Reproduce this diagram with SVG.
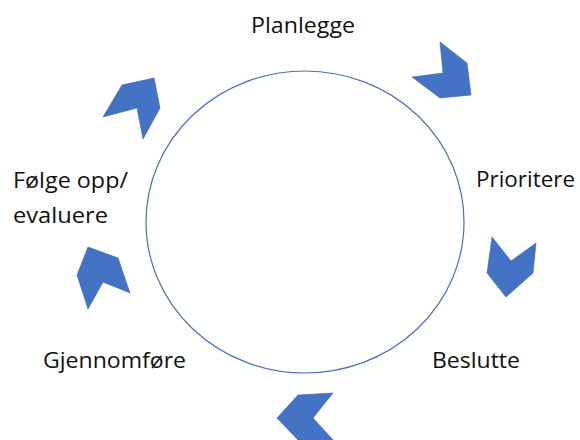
<svg xmlns="http://www.w3.org/2000/svg" width="580" height="440" viewBox="0 0 580 440">
<style>
.lbl{font-family:"Open Sans","Liberation Sans",sans-serif;font-size:22px;fill:#111}
.chev{fill:#4472C4;stroke:#3a64ae;stroke-width:0.6;stroke-linejoin:miter}
.ring{fill:#fff;stroke:#4a6fb5;stroke-width:1.2}
</style>
<rect width="580" height="440" fill="#fff"/>
<g id="ring"><ellipse class="ring" cx="305" cy="222" rx="159" ry="151"/></g>
<g id="planlegge"><text class="lbl" x="251" y="33" textLength="104" lengthAdjust="spacingAndGlyphs">Planlegge</text></g>
<g id="prioritere"><text class="lbl" x="476" y="187" textLength="99" lengthAdjust="spacingAndGlyphs">Prioritere</text></g>
<g id="beslutte"><text class="lbl" x="432" y="368" textLength="88" lengthAdjust="spacingAndGlyphs">Beslutte</text></g>
<g id="gjennomfore"><text class="lbl" x="43" y="368" textLength="143" lengthAdjust="spacingAndGlyphs">Gjennomføre</text></g>
<g id="folge"><text class="lbl" x="13" y="188" textLength="115" lengthAdjust="spacingAndGlyphs">Følge opp/</text><text class="lbl" x="13" y="223" textLength="95" lengthAdjust="spacingAndGlyphs">evaluere</text></g>
<g id="connectors">
<polygon class="chev" points="440,42 467,63 471,95 440,98 412,77 443,73"/>
<polygon class="chev" points="492,237 511,261 536,243 533,273 506,297 487,273"/>
<polygon class="chev" points="298,395 333,393 313,418 335,442 298,440 277,418"/>
<polygon class="chev" points="88,247 118,258 130,293 103,282 88,309 77,275"/>
<polygon class="chev" points="122,85 154,78 160,108 143,139 137,108 103,117"/>
</g>
</svg>
